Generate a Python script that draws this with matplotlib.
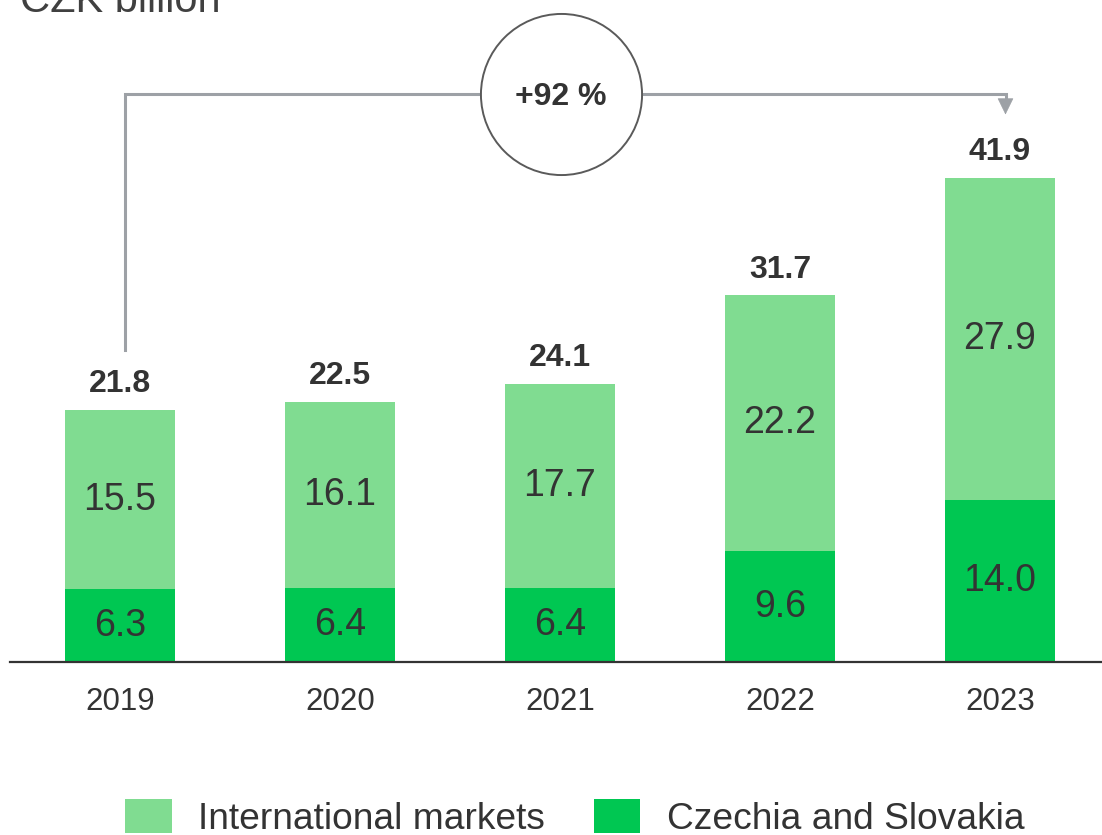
import matplotlib
matplotlib.use('Agg')
from matplotlib import pyplot as plt

# data
years = ['2019', '2020', '2021', '2022', '2023']
czsk = [6.3, 6.4, 6.4, 9.6, 14.0]
intl = [15.5, 16.1, 17.7, 22.2, 27.9]
totals = [21.8, 22.5, 24.1, 31.7, 41.9]
growth_label = '+92 %'

light_green = '#80dc91'
dark_green = '#00c752'
text_col = '#333333'
line_col = '#9da1a6'

plt.rcParams['font.family'] = ['Liberation Sans', 'DejaVu Sans']

fig = plt.figure(figsize=(11.02, 8.35), dpi=100)
ax = fig.add_axes([10 / 1102, 1 - 662 / 835, 1092 / 1102, 662 / 835])

x = list(range(len(years)))
ax.bar(x, czsk, width=0.5, color=dark_green, label='Czechia and Slovakia')
ax.bar(x, intl, width=0.5, bottom=czsk, color=light_green, label='International markets')

# segment labels
for i in x:
    ax.text(i, czsk[i] / 2, '{:.1f}'.format(czsk[i]), ha='center', va='center',
            fontsize=27, color=text_col)
    ax.text(i, czsk[i] + intl[i] / 2, '{:.1f}'.format(intl[i]), ha='center', va='center',
            fontsize=27, color=text_col)
    ax.annotate('{:.1f}'.format(totals[i]), (i, totals[i]), xytext=(0, 13),
                textcoords='offset points', ha='center', va='baseline',
                fontsize=23, fontweight='bold', color=text_col)

ax.set_xlim(-0.5, (1102 - 120) / 220)
ax.set_ylim(0, 662 / 11.55)
ax.set_xticks(x)
ax.set_xticklabels(years, fontsize=22.5, color=text_col)
ax.tick_params(axis='x', length=0, pad=18)
ax.set_yticks([])
for s in ['top', 'right', 'left']:
    ax.spines[s].set_visible(False)
ax.spines['bottom'].set_color(text_col)
ax.spines['bottom'].set_linewidth(1.6)

# growth connector
y_top = 49.2
x0 = x[0] + 0.025
x1 = x[-1] + 0.025
ax.plot([x0, x0, x1, x1], [27.0, y_top, y_top, 48.6], color=line_col, lw=2.2,
        solid_joinstyle='miter', clip_on=False, zorder=2)
ax.annotate('', xy=(x1, 47.4), xytext=(x1, 48.9),
            arrowprops=dict(arrowstyle='-|>,head_length=0.45,head_width=0.22',
                            color=line_col, lw=0.5,
                            mutation_scale=24, shrinkA=0, shrinkB=0))
ax.plot([2.0045], [y_top], marker='o', markersize=116, markerfacecolor='white',
        markeredgecolor='#5a5a5a', markeredgewidth=1.4, clip_on=False, zorder=3)
ax.text(2.0045, y_top, growth_label, ha='center', va='center_baseline', fontsize=23,
        fontweight='bold', color=text_col, zorder=4)

fig.text(20 / 1102, 1 - 12 / 835, 'CZK billion', fontsize=30, color='#404040',
         ha='left', va='baseline')

h, l = ax.get_legend_handles_labels()
fig.legend(h[::-1], l[::-1], loc='center left', bbox_to_anchor=(125 / 1102, 1 - 818 / 835),
           ncol=2, frameon=False, fontsize=26.7, handlelength=1.26, handleheight=1.0,
           handletextpad=0.72, columnspacing=1.3, borderpad=0, borderaxespad=0,
           labelcolor=text_col)

plt.savefig('out.png', dpi=100)
